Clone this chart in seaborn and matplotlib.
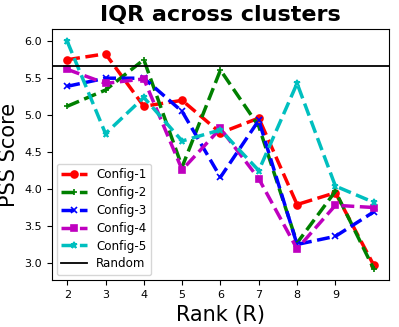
import numpy as np
import pandas as pd
import seaborn as sns
import matplotlib
matplotlib.use('Agg')
import matplotlib.pyplot as plt

ranks = [2, 3, 4, 5, 6, 7, 8, 9, 10]
config1 = [5.75, 5.83, 5.12, 5.20, 4.76, 4.96, 3.79, 3.95, 2.97]
config2 = [5.12, 5.34, 5.75, 4.30, 5.61, 4.85, 3.27, 3.97, 2.92]
config3 = [5.39, 5.50, 5.50, 5.05, 4.16, 4.93, 3.25, 3.36, 3.69]
config4 = [5.62, 5.43, 5.49, 4.26, 4.82, 4.14, 3.19, 3.78, 3.75]
config5 = [6.00, 4.75, 5.24, 4.65, 4.80, 4.25, 5.43, 4.04, 3.82]
random_score = 5.66
xtick_labels = [2, 3, 4, 5, 6, 7, 8, 9]

series = [('Config-1', config1, 'r', 'o'),
          ('Config-2', config2, 'g', '+'),
          ('Config-3', config3, 'b', 'x'),
          ('Config-4', config4, 'm', 's'),
          ('Config-5', config5, 'c', '*')]

fig, ax = plt.subplots(figsize=(3.99, 3.27), dpi=100)

for name, vals, col, mk in series:
    sns.lineplot(x=ranks, y=vals, ax=ax, color=col, marker=mk, linestyle='--',
                 linewidth=2.5, markersize=5, markeredgecolor=col, markeredgewidth=1.2,
                 label=name)

ax.axhline(random_score, color='k', linewidth=1.3, label='Random')

ax.set_xticks(xtick_labels)
ax.set_ylim(2.77, 6.16)
ax.set_xlim(1.6, 10.4)
ax.tick_params(labelsize=8)
ax.set_title('IQR across clusters', fontsize=16, fontweight='bold')
ax.set_xlabel('Rank (R)', fontsize=15)
ax.set_ylabel('PSS Score', fontsize=15)
ax.legend(loc='lower left', fontsize=8.6, handlelength=2.1, labelspacing=0.4,
          borderaxespad=0.4)

plt.subplots_adjust(left=0.13, right=0.975, top=0.91, bottom=0.144)
plt.savefig('out.png', dpi=100)
